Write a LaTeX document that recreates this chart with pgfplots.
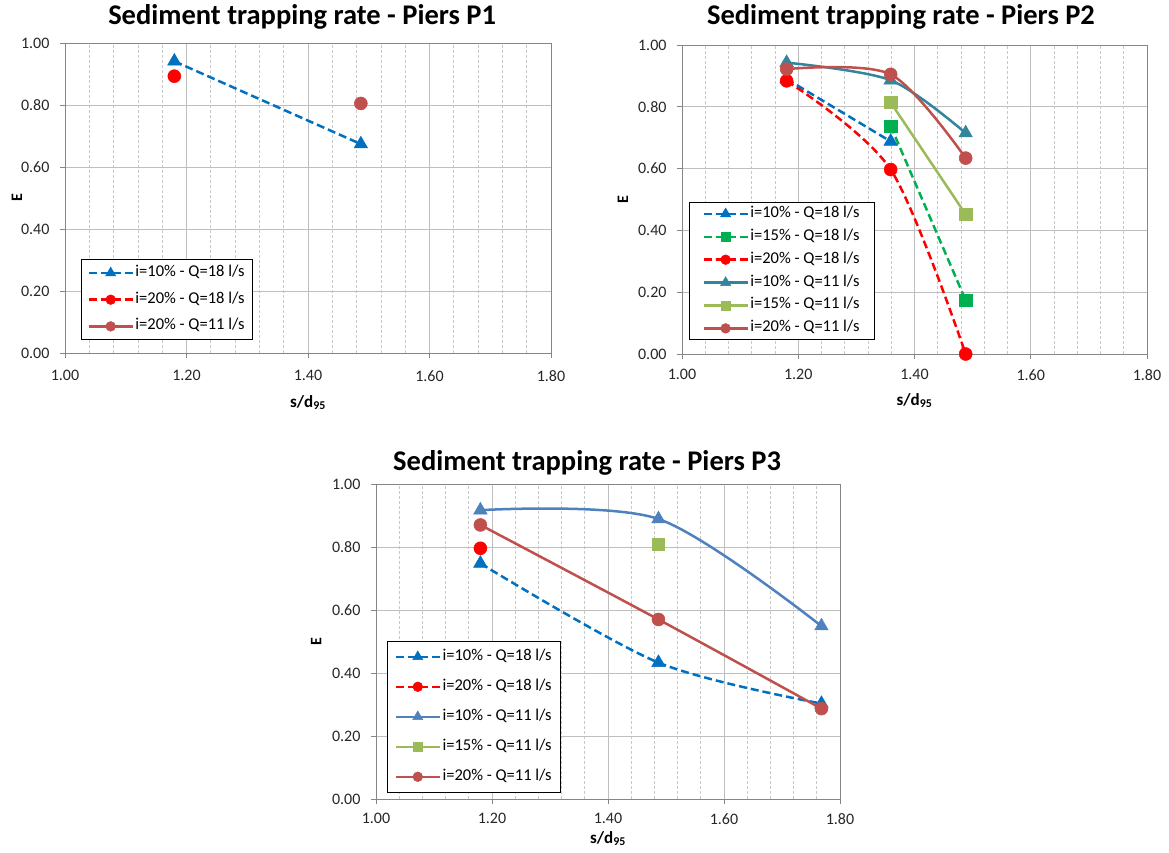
\documentclass[border=0pt]{standalone}
\usepackage{pgfplots}
\pgfplotsset{compat=1.18}
\usepackage{fontspec}
\setmainfont{Carlito}
\definecolor{cblue}{HTML}{0070C0}
\definecolor{cred}{HTML}{FF0000}
\definecolor{cgreen}{HTML}{00B050}
\definecolor{cteal}{HTML}{31859C}
\definecolor{cblueb}{HTML}{4F81BD}
\definecolor{colive}{HTML}{9BBB59}
\definecolor{cbrown}{HTML}{C0504D}
\definecolor{majgrid}{HTML}{BEBEBE}
\definecolor{mingrid}{HTML}{C8C8C8}
\definecolor{axc}{HTML}{868686}
\pgfplotsset{
  chart/.style={
    scale only axis,
    xmin=1, xmax=1.8, ymin=0, ymax=1,
    xtick={1,1.2,1.4,1.6,1.8},
    ytick={0,0.2,0.4,0.6,0.8,1},
    minor x tick num=4,
    xmajorgrids, ymajorgrids, xminorgrids,
    major grid style={draw=majgrid, line width=0.9pt},
    minor grid style={draw=mingrid, line width=0.7pt, dash pattern=on 3pt off 2pt},
    axis line style={draw=axc, line width=0.9pt},
    tick align=outside,
    major tick length=5pt, minor tick length=0pt,
    xtick pos=bottom, ytick pos=left,
    major tick style={draw=axc, line width=0.9pt},
    /pgf/number format/fixed, /pgf/number format/fixed zerofill,
    /pgf/number format/precision=2,
    /pgf/number format/assume math mode=true,
    tick label style={font=\fontsize{16}{18}\selectfont, text=black!85},
    yticklabel style={xshift=-7pt},
    ylabel={E},
    ylabel style={font=\fontsize{16}{18}\selectfont\bfseries, anchor=center},
    xlabel={s/d\textsubscript{95}},
    xlabel style={font=\fontsize{17}{19}\selectfont\bfseries, anchor=base},
    title style={font=\fontsize{28.5}{32}\selectfont\bfseries, anchor=base},
    clip=false,
    legend cell align=left,
    legend style={draw=black, line width=0.8pt, fill=white,
      font=\fontsize{16.5}{18}\selectfont, anchor=north west,
      nodes={inner ysep=0pt, inner xsep=1.5pt, text height=11pt, text depth=4pt}},
    legend image code/.code={
      \draw[mark repeat=2, mark phase=2, ##1, every mark/.append style={scale=0.75}]
        plot coordinates {(0pt,0pt) (22pt,0pt) (44pt,0pt)};
    },
  },
  dsh/.style={dash pattern=on 8pt off 4pt},
  sAa/.style={cblue, line width=2.5pt, dsh, mark=triangle*, mark size=7.8pt, mark options={solid, line width=0.5pt}},
  sBa/.style={cgreen, line width=2.5pt, dsh, mark=square*, mark size=6.2pt, mark options={solid, line width=0.5pt}},
  sCa/.style={cred, line width=2.5pt, dsh, mark=*, mark size=6.5pt, mark options={solid, line width=0.5pt}},
  sAb/.style={#1, line width=2.5pt, solid, mark=triangle*, mark size=7.8pt, mark options={solid, line width=0.5pt}},
  sBb/.style={colive, line width=2.5pt, solid, mark=square*, mark size=6.2pt, mark options={solid, line width=0.5pt}},
  sCb/.style={cbrown, line width=2.5pt, solid, mark=*, mark size=6.5pt, mark options={solid, line width=0.5pt}},
}
\begin{document}
\begin{tikzpicture}
\useasboundingbox (0,0) rectangle (1169pt,-852pt);
% ---------------- P1
\begin{axis}[chart, at={(65pt,-353pt)}, anchor=south west, width=486pt, height=310pt,
  title={Sediment trapping rate - Piers P1},
  title style={at={(0.488,1)}, yshift=13pt},
  xticklabel style={yshift=-9pt},
  ylabel style={at={(axis description cs:-0.099,0.5)}},
  xlabel style={at={(axis description cs:0.5,0)}, yshift=-54pt},
  legend style={at={(0.033,0.303)}, inner xsep=6pt, inner ysep=6pt, row sep=11.7pt}]
\addplot[sAa] coordinates {(1.18,0.941) (1.487,0.674)};
\addlegendentry{i=10\% - Q=18 l/s}
\addplot[sCa] coordinates {(1.18,0.893)};
\addlegendentry{i=20\% - Q=18 l/s}
\addplot[sCb] coordinates {(1.487,0.805)};
\addlegendentry{i=20\% - Q=11 l/s}
\end{axis}
% ---------------- P2
\begin{axis}[chart, at={(682pt,-354pt)}, anchor=south west, width=465pt, height=309pt,
  title={Sediment trapping rate - Piers P2},
  title style={at={(0.471,1)}, yshift=15pt},
  xticklabel style={yshift=-7pt},
  ylabel style={at={(axis description cs:-0.127,0.5)}},
  xlabel style={at={(axis description cs:0.5,0)}, yshift=-51pt},
  legend style={at={(0.015,0.492)}, inner xsep=13pt, inner ysep=4pt, row sep=7.9pt}]
\addplot[sAa, smooth] coordinates {(1.18,0.89) (1.359,0.688)};
\addlegendentry{i=10\% - Q=18 l/s}
\addplot[sBa, smooth] coordinates {(1.359,0.738) (1.488,0.174)};
\addlegendentry{i=15\% - Q=18 l/s}
\addplot[sCa, smooth] coordinates {(1.18,0.884) (1.359,0.597) (1.488,0.0)};
\addlegendentry{i=20\% - Q=18 l/s}
\addplot[sAb=cteal, smooth] coordinates {(1.18,0.943) (1.359,0.886) (1.488,0.715)};
\addlegendentry{i=10\% - Q=11 l/s}
\addplot[sBb, smooth] coordinates {(1.359,0.814) (1.488,0.452)};
\addlegendentry{i=15\% - Q=11 l/s}
\addplot[sCb, smooth] coordinates {(1.18,0.922) (1.359,0.905) (1.488,0.634)};
\addlegendentry{i=20\% - Q=11 l/s}
\end{axis}
% ---------------- P3
\begin{axis}[chart, at={(376pt,-799pt)}, anchor=south west, width=464pt, height=315pt,
  title={Sediment trapping rate - Piers P3},
  title style={at={(0.455,1)}, yshift=8pt},
  xticklabel style={yshift=-6pt},
  ylabel style={at={(axis description cs:-0.129,0.5)}},
  xlabel style={at={(axis description cs:0.5,0)}, yshift=-44pt},
  legend style={at={(0.024,0.502)}, inner xsep=7pt, inner ysep=8pt, row sep=15pt}]
\addplot[sAa, smooth] coordinates {(1.18,0.748) (1.487,0.433) (1.768,0.303)};
\addlegendentry{i=10\% - Q=18 l/s}
\addplot[sCa] coordinates {(1.18,0.796)};
\addlegendentry{i=20\% - Q=18 l/s}
\addplot[sAb=cblueb, smooth] coordinates {(1.18,0.917) (1.487,0.889) (1.768,0.549)};
\addlegendentry{i=10\% - Q=11 l/s}
\addplot[sBb] coordinates {(1.487,0.808)};
\addlegendentry{i=15\% - Q=11 l/s}
\addplot[sCb, smooth] coordinates {(1.18,0.870) (1.487,0.570) (1.768,0.287)};
\addlegendentry{i=20\% - Q=11 l/s}
\end{axis}
\end{tikzpicture}
\end{document}
